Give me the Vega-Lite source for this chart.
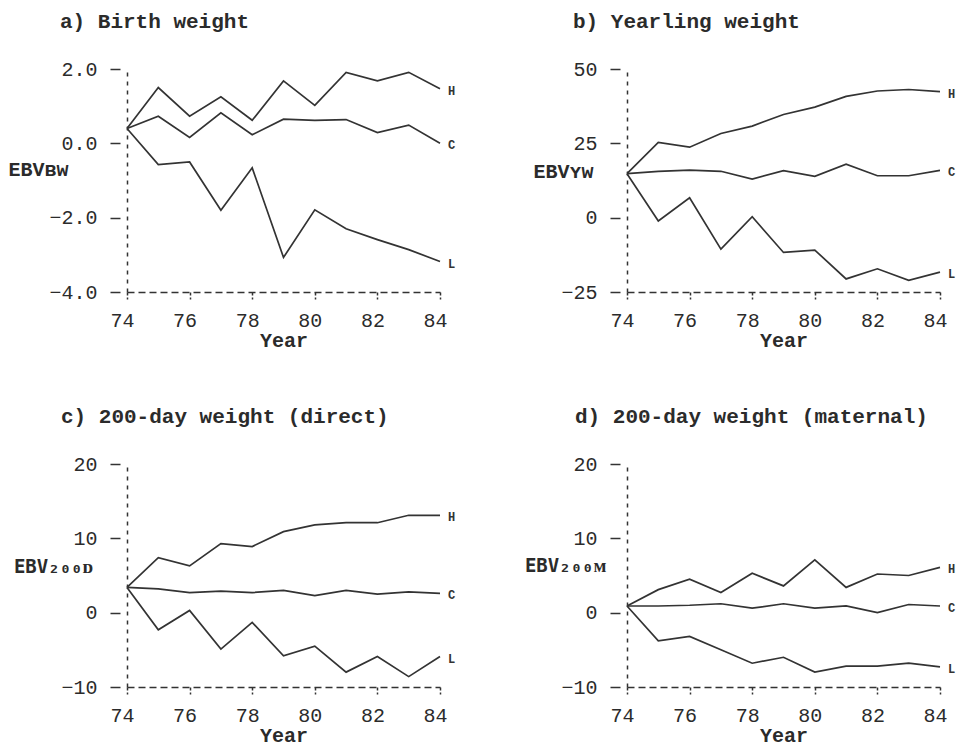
{
  "$schema": "https://vega.github.io/schema/vega-lite/v6.json",
  "background": "white",
  "padding": {"left": 7, "top": 11, "right": 5, "bottom": 2},
  "datasets": {
    "ebv": [
      {"panel":"a","year":74,"H":0.4,"C":0.4,"L":0.4},
      {"panel":"a","year":75,"H":1.5,"C":0.73,"L":-0.57},
      {"panel":"a","year":76,"H":0.73,"C":0.16,"L":-0.5},
      {"panel":"a","year":77,"H":1.25,"C":0.82,"L":-1.8},
      {"panel":"a","year":78,"H":0.62,"C":0.23,"L":-0.66},
      {"panel":"a","year":79,"H":1.68,"C":0.65,"L":-3.07},
      {"panel":"a","year":80,"H":1.02,"C":0.62,"L":-1.79},
      {"panel":"a","year":81,"H":1.91,"C":0.64,"L":-2.3},
      {"panel":"a","year":82,"H":1.68,"C":0.29,"L":-2.59},
      {"panel":"a","year":83,"H":1.91,"C":0.49,"L":-2.86},
      {"panel":"a","year":84,"H":1.47,"C":0.0,"L":-3.18},
      {"panel":"b","year":74,"H":14.8,"C":14.8,"L":14.8},
      {"panel":"b","year":75,"H":25.3,"C":15.6,"L":-1.1},
      {"panel":"b","year":76,"H":23.7,"C":16.0,"L":6.7},
      {"panel":"b","year":77,"H":28.3,"C":15.6,"L":-10.6},
      {"panel":"b","year":78,"H":30.8,"C":13.0,"L":0.3},
      {"panel":"b","year":79,"H":34.7,"C":15.8,"L":-11.7},
      {"panel":"b","year":80,"H":37.2,"C":13.9,"L":-10.9},
      {"panel":"b","year":81,"H":40.8,"C":18.0,"L":-20.6},
      {"panel":"b","year":82,"H":42.6,"C":14.1,"L":-17.2},
      {"panel":"b","year":83,"H":43.1,"C":14.1,"L":-21.1},
      {"panel":"b","year":84,"H":42.4,"C":15.9,"L":-18.3},
      {"panel":"c","year":74,"H":3.4,"C":3.4,"L":3.4},
      {"panel":"c","year":75,"H":7.4,"C":3.2,"L":-2.3},
      {"panel":"c","year":76,"H":6.3,"C":2.7,"L":0.3},
      {"panel":"c","year":77,"H":9.3,"C":2.9,"L":-4.9},
      {"panel":"c","year":78,"H":8.9,"C":2.7,"L":-1.3},
      {"panel":"c","year":79,"H":10.9,"C":3.0,"L":-5.8},
      {"panel":"c","year":80,"H":11.8,"C":2.3,"L":-4.5},
      {"panel":"c","year":81,"H":12.1,"C":3.0,"L":-8.0},
      {"panel":"c","year":82,"H":12.1,"C":2.5,"L":-5.9},
      {"panel":"c","year":83,"H":13.1,"C":2.8,"L":-8.6},
      {"panel":"c","year":84,"H":13.1,"C":2.6,"L":-5.9},
      {"panel":"d","year":74,"H":0.9,"C":0.9,"L":0.9},
      {"panel":"d","year":75,"H":3.1,"C":0.9,"L":-3.8},
      {"panel":"d","year":76,"H":4.5,"C":1.0,"L":-3.2},
      {"panel":"d","year":77,"H":2.7,"C":1.2,"L":-5.0},
      {"panel":"d","year":78,"H":5.3,"C":0.6,"L":-6.8},
      {"panel":"d","year":79,"H":3.6,"C":1.2,"L":-6.0},
      {"panel":"d","year":80,"H":7.1,"C":0.6,"L":-8.0},
      {"panel":"d","year":81,"H":3.4,"C":0.9,"L":-7.2},
      {"panel":"d","year":82,"H":5.2,"C":0.0,"L":-7.2},
      {"panel":"d","year":83,"H":5.0,"C":1.1,"L":-6.8},
      {"panel":"d","year":84,"H":6.1,"C":0.9,"L":-7.3}
    ]
  },
  "data": {"name": "ebv"},
  "transform": [{"fold": ["H", "C", "L"], "as": ["series", "value"]}],
  "columns": 2,
  "bounds": "flush",
  "spacing": {"column": 187, "row": 172},
  "concat": [
    {
      "title": {"text": "a) Birth weight", "dx": -67},
      "width": 313, "height": 223,
      "transform": [{"filter": "datum.panel == 'a'"}],
      "encoding": {
        "x": {"field": "year", "type": "quantitative", "scale": {"domain": [74, 84], "nice": false, "zero": false}, "axis": {"values": [74, 76, 78, 80, 82, 84], "format": "d", "title": "Year"}},
        "y": {"field": "value", "type": "quantitative", "scale": {"domain": [-4, 2], "nice": false, "zero": false}, "axis": {"values": [-4, -2, 0, 2], "format": ".1f", "title": "EBVʙᴡ", "titleX": -59, "titleY": 100}}
      },
      "layer": [
        {"mark": {"type": "line", "color": "#333333", "strokeWidth": 1.7}, "encoding": {"detail": {"field": "series"}}},
        {"transform": [{"filter": "datum.year == 84"}], "mark": {"type": "text", "align": "left", "baseline": "middle", "dx": 8, "dy": 2, "font": "Liberation Mono", "fontSize": 12, "fontWeight": "bold", "color": "#333333"}, "encoding": {"text": {"field": "series"}}}
      ]
    },
    {
      "title": {"text": "b) Yearling weight", "dx": -54},
      "width": 313, "height": 223,
      "transform": [{"filter": "datum.panel == 'b'"}],
      "encoding": {
        "x": {"field": "year", "type": "quantitative", "scale": {"domain": [74, 84], "nice": false, "zero": false}, "axis": {"values": [74, 76, 78, 80, 82, 84], "format": "d", "title": "Year"}},
        "y": {"field": "value", "type": "quantitative", "scale": {"domain": [-25, 50], "nice": false, "zero": false}, "axis": {"values": [-25, 0, 25, 50], "format": "d", "title": "EBVʏᴡ", "titleX": -34, "titleY": 102}}
      },
      "layer": [
        {"mark": {"type": "line", "color": "#333333", "strokeWidth": 1.7}, "encoding": {"detail": {"field": "series"}}},
        {"transform": [{"filter": "datum.year == 84"}], "mark": {"type": "text", "align": "left", "baseline": "middle", "dx": 8, "dy": 2, "font": "Liberation Mono", "fontSize": 12, "fontWeight": "bold", "color": "#333333"}, "encoding": {"text": {"field": "series"}}}
      ]
    },
    {
      "title": {"text": "c) 200-day weight (direct)", "dx": -66},
      "width": 313, "height": 223,
      "transform": [{"filter": "datum.panel == 'c'"}],
      "encoding": {
        "x": {"field": "year", "type": "quantitative", "scale": {"domain": [74, 84], "nice": false, "zero": false}, "axis": {"values": [74, 76, 78, 80, 82, 84], "format": "d", "title": "Year"}},
        "y": {"field": "value", "type": "quantitative", "scale": {"domain": [-10, 20], "nice": false, "zero": false}, "axis": {"values": [-10, 0, 10, 20], "format": "d", "title": "EBV₂₀₀ᴅ", "titleFont": "DejaVu Sans Mono", "titleFontSize": 19, "titleX": -34, "titleY": 102}}
      },
      "layer": [
        {"mark": {"type": "line", "color": "#333333", "strokeWidth": 1.7}, "encoding": {"detail": {"field": "series"}}},
        {"transform": [{"filter": "datum.year == 84"}], "mark": {"type": "text", "align": "left", "baseline": "middle", "dx": 8, "dy": 2, "font": "Liberation Mono", "fontSize": 12, "fontWeight": "bold", "color": "#333333"}, "encoding": {"text": {"field": "series"}}}
      ]
    },
    {
      "title": {"text": "d) 200-day weight (maternal)", "dx": -52},
      "width": 313, "height": 223,
      "transform": [{"filter": "datum.panel == 'd'"}],
      "encoding": {
        "x": {"field": "year", "type": "quantitative", "scale": {"domain": [74, 84], "nice": false, "zero": false}, "axis": {"values": [74, 76, 78, 80, 82, 84], "format": "d", "title": "Year"}},
        "y": {"field": "value", "type": "quantitative", "scale": {"domain": [-10, 20], "nice": false, "zero": false}, "axis": {"values": [-10, 0, 10, 20], "format": "d", "title": "EBV₂₀₀ᴍ", "titleFont": "DejaVu Sans Mono", "titleFontSize": 19, "titleX": -21, "titleY": 101}}
      },
      "layer": [
        {"mark": {"type": "line", "color": "#333333", "strokeWidth": 1.7}, "encoding": {"detail": {"field": "series"}}},
        {"transform": [{"filter": "datum.year == 84"}], "mark": {"type": "text", "align": "left", "baseline": "middle", "dx": 8, "dy": 2, "font": "Liberation Mono", "fontSize": 12, "fontWeight": "bold", "color": "#333333"}, "encoding": {"text": {"field": "series"}}}
      ]
    }
  ],
  "config": {
    "view": {"stroke": null},
    "axis": {
      "labelFont": "Liberation Mono", "labelFontSize": 20, "labelColor": "#2b2b2b",
      "titleFont": "Liberation Mono", "titleFontSize": 20, "titleFontWeight": "bold", "titleColor": "#2b2b2b",
      "domainColor": "#333333", "tickColor": "#333333", "domainWidth": 1.5, "tickWidth": 1.5,
      "grid": false, "labelOverlap": false, "labelFlush": false
    },
    "axisY": {"domainDash": [4, 5], "tickSize": 17, "tickDash": [0, 7, 10, 40], "labelPadding": 13, "titleAngle": 0, "titleAlign": "right", "titleBaseline": "middle"},
    "axisX": {"domainDash": [7, 4], "tickSize": 7, "tickDash": [3, 2], "labelPadding": 11, "labelOffset": -5, "titlePadding": 0},
    "title": {"font": "Liberation Mono", "fontSize": 21, "fontWeight": "bold", "color": "#2b2b2b", "anchor": "start", "frame": "group", "offset": 27}
  }
}
